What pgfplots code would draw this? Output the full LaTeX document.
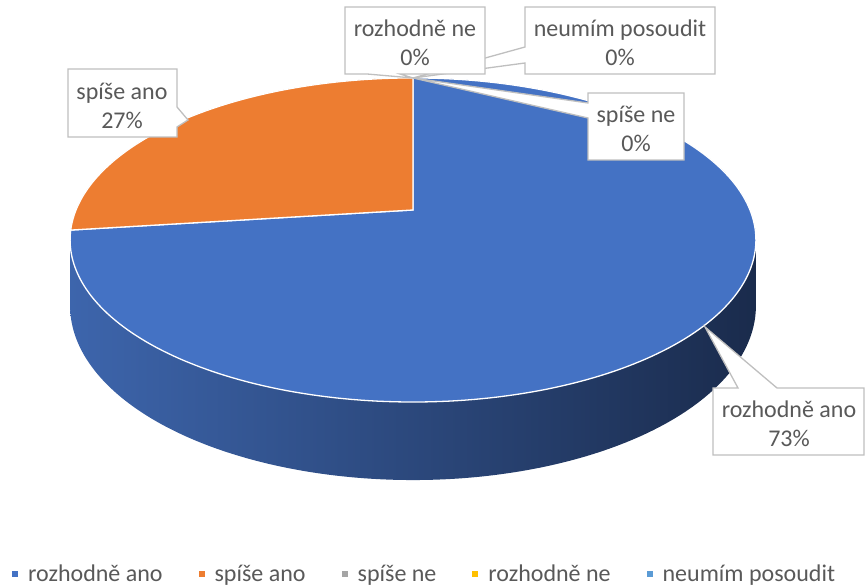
\documentclass[border=0pt]{standalone}
\usepackage{pgfplots}
\pgfplotsset{compat=1.18}
\usepackage{pgfplotstable}
\usepackage{fontspec}
\setmainfont{Carlito}
\definecolor{cBlue}{HTML}{4472C4}
\definecolor{cOrange}{HTML}{ED7D31}
\definecolor{cGray}{HTML}{A5A5A5}
\definecolor{cYellow}{HTML}{FFC000}
\definecolor{cLBlue}{HTML}{5B9BD5}
\definecolor{sideL}{HTML}{3D65AC}
\definecolor{sideM}{HTML}{2A4677}
\definecolor{sideR}{HTML}{1A2B4C}
\definecolor{labgray}{HTML}{595959}
\definecolor{callgray}{HTML}{BFBFBF}
\tikzset{
  lab/.style={font=\fontsize{24}{29}\selectfont, text=labgray, align=center},
  callout/.style={fill=white, draw=callgray, line width=1.3pt, line join=miter},
}
\pgfplotstableread[col sep=comma]{
label,value
rozhodně ano,73
spíše ano,27
spíše ne,0
rozhodně ne,0
neumím posoudit,0
}\piedata
\begin{document}
\begin{tikzpicture}
\pgfplotstablegetelem{0}{value}\of\piedata \edef\vA{\pgfplotsretval}
\pgfplotstablegetelem{1}{value}\of\piedata \edef\vB{\pgfplotsretval}
\pgfmathsetmacro\angB{90+3.6*\vB}
\pgfmathsetmacro\angA{90-3.6*\vA}
\begin{axis}[width=866pt,height=588pt,scale only axis,
  xmin=0,xmax=866,ymin=0,ymax=588,hide axis,clip=false,
  legend columns=5,
  legend style={draw=none, fill=none, at={(axis cs:12,14)}, anchor=west,
    inner sep=0pt, column sep=0pt, nodes={inner sep=0pt},
    font=\fontsize{24}{28}\selectfont, text=labgray,
    /tikz/every even column/.append style={column sep=36pt}},
  legend image code/.code={\fill[#1, draw=none] (0pt,-3pt) rectangle (6pt,3pt); \path[draw=none, fill=none] (0pt,0pt) (16pt,0pt);},
]
% side of the pie
\addplot[forget plot, draw=none, left color=sideL, middle color=sideM, right color=sideR,
  domain=-10.66:349.34, samples=361]
  ({413+337*cos(x)/(1+0.185*sin(x))},
   {378+(156.5*sin(x)-63.6*(x>190.66))/(1+0.185*sin(x))});
% top face: rozhodne ano
\addplot[forget plot, fill=cBlue, draw=white, line width=1.3pt, domain=\angA:90, samples=220]
  ({413+337*cos(x)/(1+0.185*sin(x))},
   {378+156.5*sin(x)/(1+0.185*sin(x))}) -- (axis cs:413,378) -- cycle;
% top face: spise ano
\addplot[forget plot, fill=cOrange, draw=white, line width=1.3pt, domain=90:\angB, samples=100]
  ({413+337*cos(x)/(1+0.185*sin(x))},
   {378+156.5*sin(x)/(1+0.185*sin(x))}) -- (axis cs:413,378) -- cycle;

\addlegendimage{fill=cBlue}\addlegendentry{rozhodně ano}
\addlegendimage{fill=cOrange}\addlegendentry{spíše ano}
\addlegendimage{fill=cGray}\addlegendentry{spíše ne}
\addlegendimage{fill=cYellow}\addlegendentry{rozhodně ne}
\addlegendimage{fill=cLBlue}\addlegendentry{neumím posoudit}

% callouts
\draw[callout] (axis cs:68,519) -- (axis cs:177,519) -- (axis cs:177,481) -- (axis cs:188,468)
  -- (axis cs:177,461) -- (axis cs:177,451) -- (axis cs:68,451) -- cycle;
\node[lab] at (axis cs:122,482) {spíše ano\\27\%};

\draw[callout] (axis cs:713,200) -- (axis cs:738,200) -- (axis cs:705,261) -- (axis cs:777,200)
  -- (axis cs:864,200) -- (axis cs:864,133) -- (axis cs:713,133) -- cycle;
\node[lab] at (axis cs:789,164) {rozhodně ano\\73\%};

\draw[callout] (axis cs:588,495) -- (axis cs:684,495) -- (axis cs:684,428) -- (axis cs:588,428)
  -- (axis cs:588,470) -- (axis cs:413,510) -- (axis cs:588,485) -- cycle;
\node[lab] at (axis cs:636,459) {spíše ne\\0\%};

\draw[callout] (axis cs:525,581) -- (axis cs:715,581) -- (axis cs:715,514) -- (axis cs:525,514)
  -- (axis cs:525,525) -- (axis cs:413,510) -- (axis cs:525,541) -- cycle;
\node[lab] at (axis cs:620,545) {neumím posoudit\\0\%};

\draw[callout] (axis cs:345,581) -- (axis cs:485,581) -- (axis cs:485,514) -- (axis cs:400,514)
  -- (axis cs:413,510) -- (axis cs:367,514) -- (axis cs:345,514) -- cycle;
\node[lab] at (axis cs:415,545) {rozhodně ne\\0\%};
\end{axis}
\pgfresetboundingbox
\path (current axis.south west) rectangle (current axis.north east);
\end{tikzpicture}
\end{document}
